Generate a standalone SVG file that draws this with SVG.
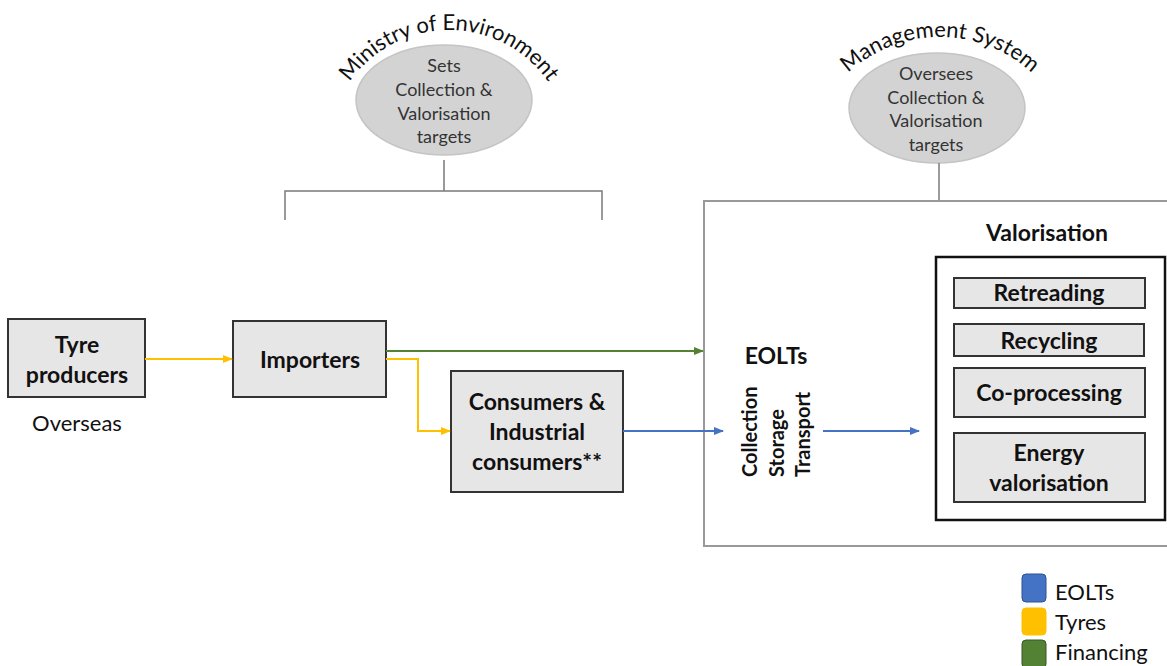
<svg xmlns="http://www.w3.org/2000/svg" width="1167" height="666" viewBox="0 0 1167 666">
<style>
text{font-family:Lato,"Open Sans","Liberation Sans",sans-serif;fill:#111}
.b{font-weight:bold;font-size:23px;text-anchor:middle}
.e{font-size:18px;text-anchor:middle;fill:#333}
.arc{font-size:22px;fill:#111}
.rot{font-size:20px;font-weight:bold}
.box{fill:#e7e6e6;stroke:#333;stroke-width:2}
.ell{fill:#d3d3d3;stroke:#c4c4c4;stroke-width:1.5}
.gl{stroke:#7a7a7a;stroke-width:1.5;fill:none}
.lg{font-size:22px}
</style>
<defs>
<marker id="mb" markerWidth="10" markerHeight="8" refX="9" refY="4" orient="auto" markerUnits="userSpaceOnUse"><path d="M0,0L10,4L0,8z" fill="#4472c4"/></marker>
<marker id="my" markerWidth="10" markerHeight="8" refX="9" refY="4" orient="auto" markerUnits="userSpaceOnUse"><path d="M0,0L10,4L0,8z" fill="#ffc000"/></marker>
<marker id="mg" markerWidth="10" markerHeight="8" refX="9" refY="4" orient="auto" markerUnits="userSpaceOnUse"><path d="M0,0L10,4L0,8z" fill="#548235"/></marker>
<path id="arc1" d="M328,151 A121,121 0 0 1 570,151"/>
<path id="arc2" d="M805,172 A135,135 0 0 1 1075,172"/>
</defs>

<g id="ministry">
<ellipse class="ell" cx="444" cy="100" rx="88" ry="55"/>
<text class="arc"><textPath href="#arc1" startOffset="50%" text-anchor="middle">Ministry of Environment</textPath></text>
<text class="e" x="444" y="72">Sets</text>
<text class="e" x="444" y="96">Collection &amp;</text>
<text class="e" x="444" y="120">Valorisation</text>
<text class="e" x="444" y="143">targets</text>
</g>

<g id="management">
<ellipse class="ell" cx="937" cy="108" rx="88" ry="55"/>
<text class="arc"><textPath href="#arc2" startOffset="50%" text-anchor="middle">Management System</textPath></text>
<text class="e" x="936" y="80">Oversees</text>
<text class="e" x="936" y="104">Collection &amp;</text>
<text class="e" x="936" y="127">Valorisation</text>
<text class="e" x="936" y="151">targets</text>
</g>

<g id="brackets">
<path class="gl" d="M444,160V191M285,220V191H602V220"/>
<path class="gl" d="M939,163V201"/>
</g>

<g id="system-box">
<rect x="704" y="201" width="480" height="345" fill="#fff" stroke="#999" stroke-width="2"/>
</g>

<g id="tyre-producers">
<rect class="box" x="8" y="319" width="137" height="78"/>
<text class="b" x="77" y="353">Tyre</text>
<text class="b" x="77" y="383">producers</text>
<text x="77" y="431" font-size="22" text-anchor="middle">Overseas</text>
</g>

<g id="importers">
<rect class="box" x="233" y="321" width="153" height="76"/>
<text class="b" x="310" y="368">Importers</text>
</g>

<g id="consumers">
<rect class="box" x="451" y="371" width="172" height="121"/>
<text class="b" x="537" y="410">Consumers &amp;</text>
<text class="b" x="537" y="440">Industrial</text>
<text class="b" x="537" y="470">consumers**</text>
</g>

<g id="eolts">
<text class="b" x="776" y="364" font-size="21">EOLTs</text>
<text class="rot" transform="translate(757,477) rotate(-90)">Collection</text>
<text class="rot" transform="translate(784,477) rotate(-90)">Storage</text>
<text class="rot" transform="translate(810,477) rotate(-90)">Transport</text>
</g>

<g id="valorisation">
<text class="b" x="1047" y="241">Valorisation</text>
<rect x="936" y="257" width="229" height="263" fill="#fff" stroke="#111" stroke-width="2.5"/>
<rect class="box" x="954" y="278" width="191" height="30"/>
<text class="b" x="1049" y="301">Retreading</text>
<rect class="box" x="954" y="324" width="190" height="32"/>
<text class="b" x="1049" y="349">Recycling</text>
<rect class="box" x="954" y="368" width="191" height="49"/>
<text class="b" x="1049" y="401">Co-processing</text>
<rect class="box" x="954" y="433" width="191" height="69"/>
<text class="b" x="1049" y="461">Energy</text>
<text class="b" x="1049" y="491">valorisation</text>
</g>

<g id="connectors" fill="none" stroke-width="2">
<path d="M145,359H232" stroke="#ffc000" marker-end="url(#my)"/>
<path d="M386,359H418V431H450" stroke="#ffc000" marker-end="url(#my)"/>
<path d="M386,351H703" stroke="#548235" marker-end="url(#mg)"/>
<path d="M623,431H723" stroke="#4472c4" marker-end="url(#mb)"/>
<path d="M823,431H919" stroke="#4472c4" marker-end="url(#mb)"/>
</g>

<g id="legend">
<rect x="1022" y="574" width="24" height="28" rx="4" fill="#4472c4" stroke="#2f528f" stroke-width="1"/>
<rect x="1022" y="608" width="24" height="27" rx="4" fill="#ffc000" stroke="#ffc000" stroke-width="1"/>
<rect x="1022" y="640" width="24" height="28" rx="4" fill="#548235" stroke="#385723" stroke-width="1"/>
<text class="lg" x="1055" y="600">EOLTs</text>
<text class="lg" x="1055" y="630">Tyres</text>
<text class="lg" x="1055" y="660">Financing</text>
</g>
</svg>
